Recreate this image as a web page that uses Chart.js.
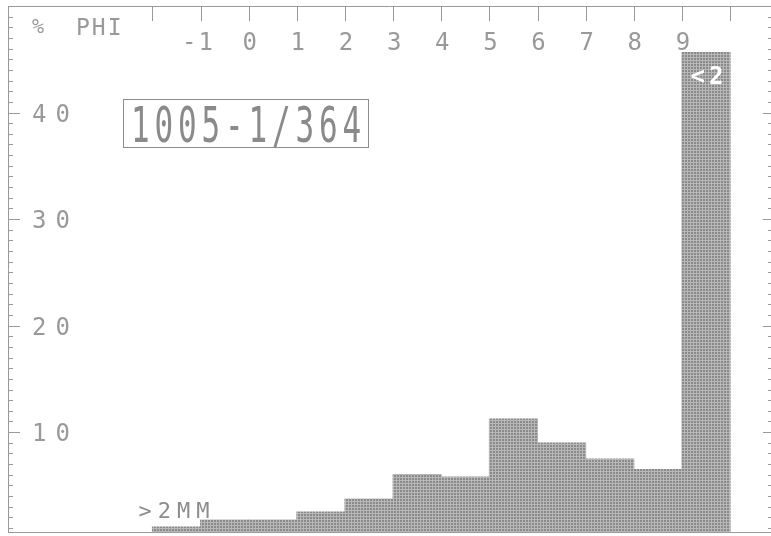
<!DOCTYPE html>
<html><head><meta charset="utf-8">
<script src="https://cdn.jsdelivr.net/npm/chart.js@4/dist/chart.umd.min.js"></script>
<style>html,body{margin:0;padding:0;background:#fff;overflow:hidden}canvas{display:block}</style>
</head><body>
<canvas id="c" width="771" height="536"></canvas>
<script>
// ---- data ----
const binCenters = [-1.5, -0.5, 0.5, 1.5, 2.5, 3.5, 4.5, 5.5, 6.5, 7.5, 8.5, 9.5];
const percentValues = [1.1, 1.75, 1.75, 2.5, 3.72, 6.02, 5.78, 11.22, 8.97, 7.47, 6.49, 45.63];
const phiTicks = [-2, -1, 0, 1, 2, 3, 4, 5, 6, 7, 8, 9, 10];
const phiTickLabels = ['', '-1', '0', '1', '2', '3', '4', '5', '6', '7', '8', '9', ''];
const percentTicks = [10, 20, 30, 40];
const sampleTitle = '1005-1/364';
const coarseLabel = '>2MM';
const fineLabel = '<2';
const xTitle = 'PHI';
const yTitle = '%';

const FONT = '"DejaVu Sans Mono", "Liberation Mono", monospace';
const INK = '#8c8c8c';

function txt(ctx, s, x, y, o) {
  const size = o.size, sx = o.sx || 1, sp = o.spacing || 0, align = o.align || 'left';
  ctx.save();
  ctx.font = (o.weight || 'normal') + ' ' + size + 'px ' + FONT;
  ctx.fillStyle = o.color || INK;
  ctx.textBaseline = 'alphabetic';
  ctx.textAlign = 'left';
  if ('letterSpacing' in ctx) ctx.letterSpacing = sp + 'px';
  let w = ctx.measureText(s).width;
  if ('letterSpacing' in ctx) w -= sp;
  ctx.translate(x, y);
  ctx.scale(sx, 1);
  const ox = align === 'left' ? 0 : align === 'center' ? -w / 2 : -w;
  ctx.fillText(s, ox, 0);
  ctx.restore();
}

const canvas = document.getElementById('c');
const mainCtx = canvas.getContext('2d');
function makePattern() {
  const p = document.createElement('canvas');
  p.width = 3; p.height = 3;
  const g = p.getContext('2d');
  g.fillStyle = '#b8b8b8'; g.fillRect(0, 0, 3, 3);
  g.fillStyle = '#8a8a8a'; g.fillRect(1, 1, 2, 2);
  return mainCtx.createPattern(p, 'repeat');
}

const axesPlugin = {
  id: 'axesPlugin',
  afterDatasetsDraw(chart) {
    const ctx = chart.ctx, a = chart.chartArea, xs = chart.scales.x, ys = chart.scales.y;
    ctx.save();
    ctx.strokeStyle = '#9a9a9a';
    ctx.lineWidth = 1;
    ctx.beginPath();
    // frame
    ctx.moveTo(a.left, a.top + 0.5); ctx.lineTo(a.right, a.top + 0.5);
    ctx.moveTo(a.left + 0.5, a.top); ctx.lineTo(a.left + 0.5, a.bottom);
    ctx.moveTo(a.left, a.bottom - 0.5); ctx.lineTo(a.right, a.bottom - 0.5);
    // top phi ticks
    phiTicks.forEach(v => {
      const px = Math.round(xs.getPixelForValue(v)) + 0.5;
      ctx.moveTo(px, a.top); ctx.lineTo(px, a.top + 15);
    });
    // left and right percent ticks
    for (let v = 1; v < 50; v++) {
      const py = Math.round(ys.getPixelForValue(v)) + 0.5;
      const major = v % 10 === 0;
      ctx.moveTo(a.left, py); ctx.lineTo(a.left + (major ? 12 : 5), py);
      ctx.moveTo(a.right, py); ctx.lineTo(a.right - (major ? 8 : 3), py);
    }
    ctx.stroke();

    // tick labels
    phiTicks.forEach((v, i) => {
      const lab = phiTickLabels[i];
      if (!lab) return;
      txt(ctx, lab, xs.getPixelForValue(v) + (lab.length > 1 ? -3 : 1), a.top + 44, {size: 24, spacing: 2, align: 'center', color: '#999'});
    });
    percentTicks.forEach(v => {
      txt(ctx, String(v), a.left + 24, ys.getPixelForValue(v) + 9, {size: 24, spacing: 9, color: '#999'});
    });
    // axis titles
    txt(ctx, yTitle, a.left + 24, a.top + 27, {size: 20, color: '#999'});
    txt(ctx, xTitle, a.left + 68, a.top + 29, {size: 23, spacing: 2, color: '#999'});

    // sample box
    ctx.strokeStyle = '#8c8c8c';
    ctx.strokeRect(123.5, 99.5, 245, 48);
    txt(ctx, sampleTitle, 131, 142, {size: 50, sx: 0.62, spacing: 7.8, color: '#8a8a8a'});

    // bar annotations
    const bx0 = xs.getPixelForValue(binCenters[0]);
    txt(ctx, coarseLabel, bx0 - 38, ys.getPixelForValue(percentValues[0]) - 9, {size: 22, spacing: 6, color: '#8c8c8c'});
    const bxL = xs.getPixelForValue(binCenters[binCenters.length - 1]);
    txt(ctx, fineLabel, bxL + 1, ys.getPixelForValue(percentValues[percentValues.length - 1]) + 31, {size: 24, spacing: 4, align: 'center', weight: 'bold', color: '#ffffff'});
    ctx.restore();
  }
};

new Chart(canvas, {
  type: 'bar',
  data: {
    datasets: [{
      data: binCenters.map((c, i) => ({x: c, y: percentValues[i]})),
      backgroundColor: makePattern(),
      borderWidth: 0,
      barPercentage: 1,
      categoryPercentage: 1,
      inflateAmount: 0.5
    }]
  },
  options: {
    responsive: false,
    animation: false,
    events: [],
    layout: {padding: {left: 8, top: 6, right: 0, bottom: 3}},
    plugins: {legend: {display: false}, tooltip: {enabled: false}},
    scales: {
      x: {type: 'linear', display: false, offset: false, min: -5, max: 10.85},
      y: {type: 'linear', display: false, min: 0.53, max: 50}
    }
  },
  plugins: [axesPlugin]
});
</script>
</body></html>
